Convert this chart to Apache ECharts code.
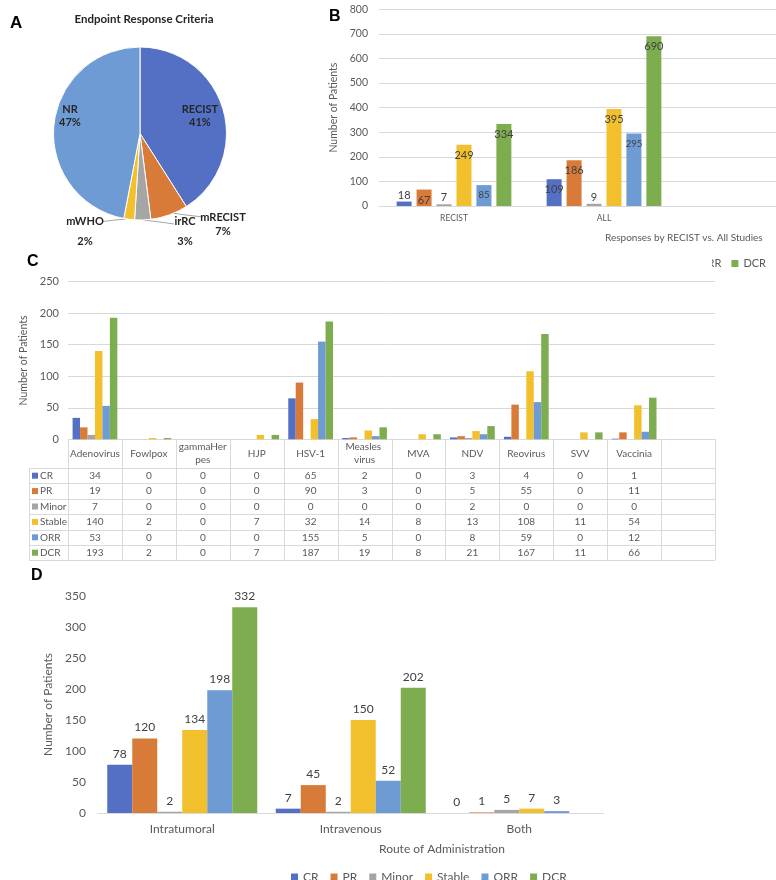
<!DOCTYPE html>
<html><head><meta charset="utf-8">
<script src="https://cdn.jsdelivr.net/npm/echarts@6/dist/echarts.min.js"></script>
<style>html,body{margin:0;padding:0;background:#fff;overflow:hidden}#c{width:830px;height:880px}</style>
</head><body><div id="c"></div>
<script>
// ---------- DATA ----------
// Panel A
const pieNames = ['RECIST', 'mRECIST', 'irRC', 'mWHO', 'NR'];
const pieValues = [41, 7, 3, 2, 47];
// Shared series names
const seriesNames = ['CR', 'PR', 'Minor', 'Stable', 'ORR', 'DCR'];
// Panel B
const bCategories = ['RECIST', 'ALL', ''];
const bCR = [18, 109];
const bPR = [67, 186];
const bMinor = [7, 9];
const bStable = [249, 395];
const bORR = [85, 295];
const bDCR = [334, 690];
// Panel C
const cCategories = ['Adenovirus', 'Fowlpox', 'gammaHerpes', 'HJP', 'HSV-1', 'Measles virus', 'MVA', 'NDV', 'Reovirus', 'SVV', 'Vaccinia', ''];
const cCR = [34, 0, 0, 0, 65, 2, 0, 3, 4, 0, 1];
const cPR = [19, 0, 0, 0, 90, 3, 0, 5, 55, 0, 11];
const cMinor = [7, 0, 0, 0, 0, 0, 0, 2, 0, 0, 0];
const cStable = [140, 2, 0, 7, 32, 14, 8, 13, 108, 11, 54];
const cORR = [53, 0, 0, 0, 155, 5, 0, 8, 59, 0, 12];
const cDCR = [193, 2, 0, 7, 187, 19, 8, 21, 167, 11, 66];
// Panel D
const dCategories = ['Intratumoral', 'Intravenous', 'Both'];
const dCR = [78, 7, 0];
const dPR = [120, 45, 1];
const dMinor = [2, 2, 5];
const dStable = [134, 150, 7];
const dORR = [198, 52, 3];
const dDCR = [332, 202, null];

// ---------- STYLE ----------
const FONT = 'Lato, "Open Sans", sans-serif';
const TXT = '#595959';
const LBL = '#404040';
const GRID = '#D9D9D9';
const colors = ['#5470C4', '#D97B38', '#A5A5A5', '#F2C02C', '#6F9BD5', '#7EAD4F'];
const pieColors = ['#5470C4', '#D97B38', '#A5A5A5', '#F2C02C', '#6F9BD5'];

const bData = [bCR, bPR, bMinor, bStable, bORR, bDCR];
const cData = [cCR, cPR, cMinor, cStable, cORR, cDCR];
const dData = [dCR, dPR, dMinor, dStable, dORR, dDCR];

// pie label placement (text styling)
const pieLabelLayout = [
  {x: 200, y: 115.5, align: 'center', verticalAlign: 'middle'},
  {x: 223, y: 224, align: 'center', verticalAlign: 'middle', labelLinePoints: [[172, 213], [186, 215], [203, 217]]},
  {x: 185, y: 231.5, align: 'center', verticalAlign: 'middle', labelLinePoints: [[143, 220], [160, 222], [174, 224]]},
  {x: 85, y: 231.5, align: 'center', verticalAlign: 'middle', labelLinePoints: [[126, 219], [115, 220], [103, 221.5]]},
  {x: 70, y: 115.5, align: 'center', verticalAlign: 'middle'}
];
const pieLineHeights = [13, 14, 20, 20, 13];

const chart = echarts.init(document.getElementById('c'));

const series = [];
series.push({
  type: 'pie', center: [140, 133.5], radius: 86.5, startAngle: 90, clockwise: true,
  itemStyle: {borderColor: '#fff', borderWidth: 1},
  data: pieNames.map((n, i) => ({
    name: n, value: pieValues[i], itemStyle: {color: pieColors[i]},
    label: {position: (i === 0 || i === 4) ? 'inside' : 'outside', lineHeight: pieLineHeights[i]},
    labelLine: {show: !(i === 0 || i === 4)}
  })),
  label: {
    show: true, fontFamily: FONT, fontSize: 11, fontWeight: 'bold', color: '#262626',
    formatter: p => p.name + '\n' + Math.round(p.percent) + '%'
  },
  labelLine: {lineStyle: {color: '#A6A6A6', width: 1}},
  labelLayout: p => pieLabelLayout[p.dataIndex]
});

seriesNames.forEach((n, i) => {
  series.push({
    type: 'bar', name: n, xAxisIndex: 0, yAxisIndex: 0,
    barWidth: 15, barGap: '33%',
    itemStyle: {color: colors[i]},
    data: bData[i].map(v => ({value: v, label: v < 30 ? {position: 'top', distance: 1} : {position: 'insideTop', distance: 5}})),
    label: {show: true, color: LBL, fontFamily: FONT, fontSize: i === 4 ? 9.5 : 11}
  });
});
seriesNames.forEach((n, i) => {
  series.push({
    type: 'bar', name: n, xAxisIndex: 1, yAxisIndex: 1,
    barGap: '0%', barCategoryGap: '17%',
    itemStyle: {color: colors[i]},
    data: cData[i]
  });
});
seriesNames.forEach((n, i) => {
  series.push({
    type: 'bar', name: n, xAxisIndex: 2, yAxisIndex: 2,
    barWidth: 25, barGap: '0%',
    itemStyle: {color: colors[i]},
    data: dData[i],
    label: {show: true, position: 'top', distance: 5, color: LBL, fontFamily: FONT, fontSize: 12}
  });
});

const catAxis = (gi, data, extra) => Object.assign({
  type: 'category', gridIndex: gi, data: data,
  axisLine: {lineStyle: {color: GRID}}, axisTick: {show: false}
}, extra);
const valAxis = (gi, max, interval, extra) => Object.assign({
  type: 'value', gridIndex: gi, min: 0, max: max, interval: interval,
  nameLocation: 'middle', name: 'Number of Patients', nameRotate: 90,
  axisLine: {show: false}, axisTick: {show: false},
  splitLine: {lineStyle: {color: GRID}}
}, extra);

chart.setOption({
  animation: false,
  backgroundColor: '#fff',
  title: [
    {text: 'A', left: 5, top: 10, textStyle: {fontFamily: 'Liberation Sans', fontSize: 17, fontWeight: 'bold', color: '#000'}},
    {text: 'Endpoint Response Criteria', left: 139, top: 8, textAlign: 'center', textStyle: {fontFamily: FONT, fontSize: 11.5, fontWeight: 'bold', color: '#262626'}},
    {text: 'B', left: 324, top: 4, textStyle: {fontFamily: 'Liberation Sans', fontSize: 16, fontWeight: 'bold', color: '#000'}},
    {text: 'Responses by RECIST vs. All Studies', left: 600, top: 228, textStyle: {fontFamily: FONT, fontSize: 10, fontWeight: 'normal', color: TXT}},
    {text: 'C', left: 22, top: 249, textStyle: {fontFamily: 'Liberation Sans', fontSize: 16, fontWeight: 'bold', color: '#000'}},
    {text: 'D', left: 26, top: 563, textStyle: {fontFamily: 'Liberation Sans', fontSize: 16, fontWeight: 'bold', color: '#000'}},
    {text: 'Route of Administration', left: 374, top: 838, textStyle: {fontFamily: FONT, fontSize: 12, fontWeight: 'normal', color: TXT}}
  ],
  legend: [
    {data: seriesNames, right: 59, top: 253, itemWidth: 7, itemHeight: 7, itemGap: 10, icon: 'rect',
     textStyle: {fontFamily: FONT, fontSize: 11, color: TXT}, selectedMode: false},
    {data: seriesNames, left: 286, top: 866, itemWidth: 7, itemHeight: 7, itemGap: 12, icon: 'rect',
     textStyle: {fontFamily: FONT, fontSize: 12, color: TXT}, selectedMode: false}
  ],
  grid: [
    {left: 379, top: 9.3, width: 450, height: 196.7},
    {left: 68, top: 281.7, width: 647, height: 157.6},
    {left: 98, top: 596, width: 505.5, height: 217}
  ],
  xAxis: [
    catAxis(0, bCategories, {axisLabel: {color: TXT, fontFamily: FONT, fontSize: 8.5, margin: 8}}),
    catAxis(1, cCategories, {axisLabel: {show: false}}),
    catAxis(2, dCategories, {axisLabel: {color: TXT, fontFamily: FONT, fontSize: 12, margin: 10}})
  ],
  yAxis: [
    valAxis(0, 800, 100, {nameGap: 31, nameTextStyle: {color: TXT, fontFamily: FONT, fontSize: 10.5},
      axisLabel: {color: TXT, fontFamily: FONT, fontSize: 10.5, margin: 11}}),
    valAxis(1, 250, 50, {nameGap: 31, nameTextStyle: {color: TXT, fontFamily: FONT, fontSize: 10.5},
      axisLabel: {color: TXT, fontFamily: FONT, fontSize: 11, margin: 9}}),
    valAxis(2, 350, 50, {nameGap: 35, nameTextStyle: {color: TXT, fontFamily: FONT, fontSize: 12},
      splitLine: {show: false},
      axisLabel: {color: TXT, fontFamily: FONT, fontSize: 12, margin: 12}})
  ],
  series: series
});

// ---------- Data table under panel C (built from the C arrays) ----------
const TF = 10;
const xs = cCategories.map((c, i) => chart.convertToPixel({xAxisIndex: 1}, i));
const colW = xs[1] - xs[0];
const tLeft = xs[0] - colW / 2;
const tRight = xs[xs.length - 1] + colW / 2;
const axisY = chart.convertToPixel({yAxisIndex: 1}, 0);
const headerH = 28.7, rowH = 15.4, keyLeft = 29;
const headBottom = axisY + headerH;
const tBottom = headBottom + rowH * seriesNames.length;
const g = [];
const lineStyle = {stroke: GRID, lineWidth: 1};
for (let r = 0; r <= seriesNames.length; r++) {
  const y = Math.round(headBottom + r * rowH) + 0.5;
  g.push({type: 'line', shape: {x1: keyLeft, y1: y, x2: tRight, y2: y}, style: lineStyle, silent: true});
}
g.push({type: 'line', shape: {x1: keyLeft + 0.5, y1: headBottom, x2: keyLeft + 0.5, y2: tBottom}, style: lineStyle, silent: true});
for (let i = 0; i <= cCategories.length; i++) {
  const x = Math.round(tLeft + i * colW) + 0.5;
  g.push({type: 'line', shape: {x1: x, y1: axisY, x2: x, y2: tBottom}, style: lineStyle, silent: true});
}
cCategories.forEach((c, i) => {
  if (!c) return;
  g.push({type: 'text', x: xs[i], y: axisY + headerH / 2, silent: true,
    style: {text: c, width: colW - 1, overflow: 'break', lineHeight: 13, align: 'center', verticalAlign: 'middle',
      fill: TXT, fontFamily: FONT, fontSize: TF}});
});
seriesNames.forEach((n, r) => {
  const cy = headBottom + r * rowH + rowH / 2;
  g.push({type: 'rect', shape: {x: keyLeft + 3, y: cy - 3, width: 6, height: 6}, style: {fill: colors[r]}, silent: true});
  g.push({type: 'text', x: keyLeft + 11, y: cy, silent: true,
    style: {text: n, align: 'left', verticalAlign: 'middle', fill: TXT, fontFamily: FONT, fontSize: TF}});
  cData[r].forEach((v, i) => {
    g.push({type: 'text', x: xs[i], y: cy, silent: true,
      style: {text: String(v), align: 'center', verticalAlign: 'middle', fill: TXT, fontFamily: FONT, fontSize: TF}});
  });
});
// white block hiding the left part of panel B's legend (as in the source figure)
g.push({type: 'rect', shape: {x: 470, y: 248, width: 242, height: 22}, style: {fill: '#fff'}, z: 100, silent: true});

chart.setOption({graphic: g});
</script>
</body></html>
